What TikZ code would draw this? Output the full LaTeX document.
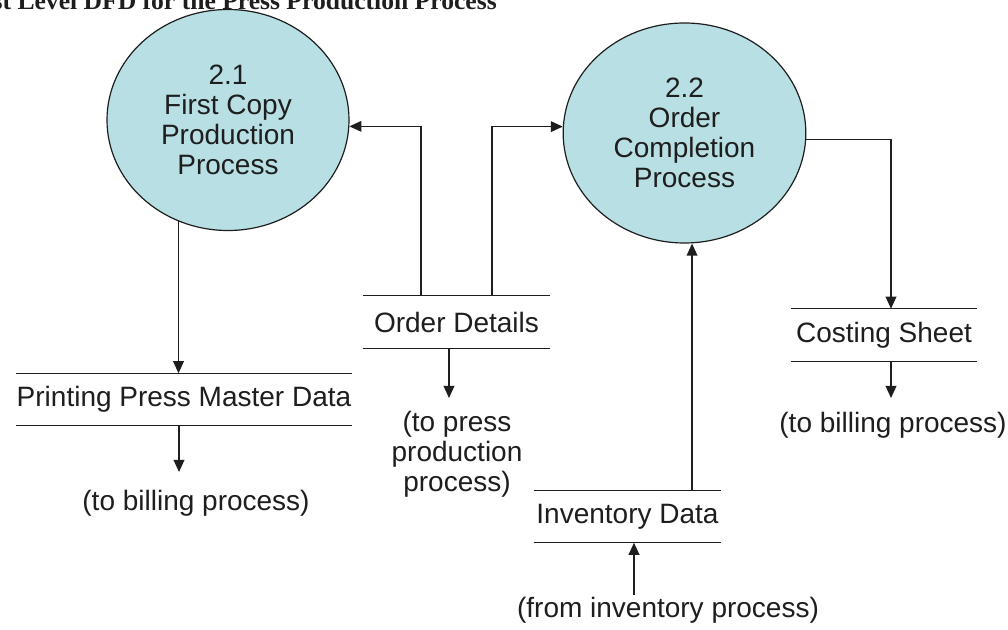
\documentclass[tikz,border=0pt]{standalone}
\usepackage{fontspec}
\setmainfont{Liberation Sans}
\newfontfamily\titlefont{Liberation Serif}
\usetikzlibrary{shapes.geometric,arrows.meta}
\definecolor{procfill}{RGB}{184,224,228}
\definecolor{ink}{RGB}{30,30,30}
\begin{document}
\begin{tikzpicture}[x=0.75pt,y=-0.75pt,
  every node/.style={font=\fontsize{21}{22.5}\selectfont, inner sep=0pt, text=ink},
  proc/.style={ellipse, draw=ink, line width=0.9pt, fill=procfill, align=center},
  store/.style={minimum height=39pt},
  storeline/.style={line width=1pt, draw=ink},
  flow/.style={line width=1pt, draw=ink, -{Triangle[length=9pt,width=8pt]}},
  lbl/.style={align=center}]
\fill[white] (0,0) rectangle (1008,630);
\useasboundingbox (0,0) rectangle (1008,630);

% title (cropped at top)
\node[anchor=base east, font=\titlefont\bfseries\fontsize{19.2}{20}\selectfont] (title) at (497,10) {First Level DFD for the Press Production Process};

% processes
\node[proc, minimum width=181.5pt, minimum height=165.75pt] (c1) at (228,120) {2.1\\First Copy\\Production\\Process};
\node[proc, minimum width=182pt, minimum height=165pt] (c2) at (684.5,133) {2.2\\Order\\Completion\\Process};

% data stores
\node[store, minimum width=246pt] (pm) at (184,399.5) {Printing Press Master Data};
\node[store, minimum width=140.25pt] (od) at (456.5,322) {Order Details};
\node[store, minimum width=140.25pt] (inv) at (627.5,516.5) {Inventory Data};
\node[store, minimum width=139.5pt] (cs) at (884,335) {Costing Sheet};
\foreach \s in {pm,od,inv,cs}{
  \draw[storeline] (\s.north west) -- (\s.north east);
  \draw[storeline] (\s.south west) -- (\s.south east);
}

% external labels
\node[lbl] (pmo) at (196,503) {(to billing process)};
\node[lbl] (odo) at (457,454) {(to press\\production\\process)};
\node[lbl] (invi) at (668,610) {(from inventory process)};
\node[lbl] (cso) at (893,425) {(to billing process)};

% connector end points
\coordinate (pmoT) at (179,472);
\coordinate (odoT) at (449,398);
\coordinate (inviB) at (634,595);
\coordinate (csoT) at (891,398);
\coordinate (odL) at ([xshift=-26.6pt]od.north);
\coordinate (odR) at ([xshift=26.6pt]od.north);
\coordinate (invUp) at ([xshift=48.4pt]inv.north);
\coordinate (csIn) at ([xshift=5.25pt]cs.north);

% flows
\draw[flow] (c1.244) -- (c1.244 |- pm.north);
\draw[flow] (pm.south -| pmoT) -- (pmoT);
\draw[flow] (odL) |- (c1.-3.8);
\draw[flow] (odR) |- (c2.177.6);
\draw[flow] (od.south -| odoT) -- (odoT);
\draw[flow] (invUp) -- (invUp |- c2.south);
\draw[flow] (inviB) -- (inviB |- inv.south);
\draw[flow] (c2.-3.3) -| (csIn);
\draw[flow] (cs.south -| csoT) -- (csoT);
\end{tikzpicture}
\end{document}
